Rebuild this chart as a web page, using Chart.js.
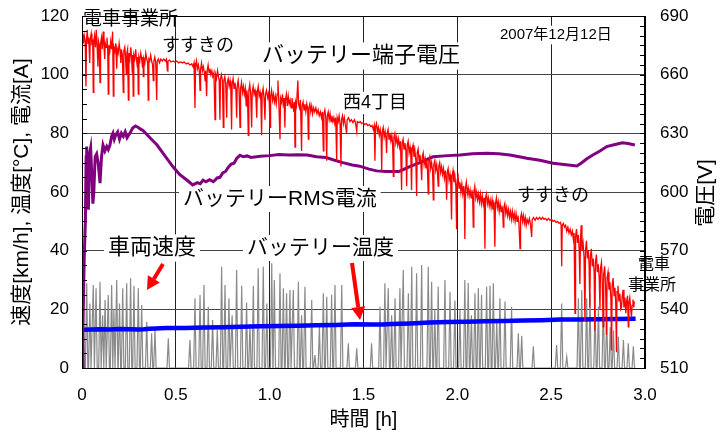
<!DOCTYPE html>
<html lang="ja">
<head>
<meta charset="UTF-8">
<title>バッテリー端子電圧</title>
<script src="https://cdn.jsdelivr.net/npm/chart.js"></script>
<style>
  html, body { margin: 0; padding: 0; background: #fff; }
  canvas { display: block; }
</style>
</head>
<body>
<canvas id="chart" width="723" height="435"></canvas>
<script>
// 軸の目盛り
const xTickValues = [0, 0.5, 1.0, 1.5, 2.0, 2.5, 3.0];
const leftTickValues = [0, 20, 40, 60, 80, 100, 120];
const rightTickValues = [510, 540, 570, 600, 630, 660, 690];

// バッテリー端子電圧 [h, V]
const voltage = [
  [0, 679], [0.004, 681], [0.008, 676], [0.012, 680], [0.017, 677], [0.021, 654], [0.024, 678], [0.028, 683],
  [0.032, 676], [0.036, 679], [0.041, 666], [0.044, 678], [0.049, 681], [0.053, 675], [0.057, 678], [0.060, 651],
  [0.063, 677], [0.067, 680], [0.072, 674], [0.076, 683], [0.080, 676], [0.085, 664], [0.088, 677], [0.092, 675],
  [0.096, 656], [0.099, 676], [0.104, 679], [0.108, 673], [0.113, 682], [0.117, 675], [0.121, 668], [0.124, 676],
  [0.129, 674], [0.133, 679], [0.137, 674], [0.140, 650], [0.143, 675], [0.148, 672], [0.153, 677], [0.158, 673],
  [0.163, 682], [0.167, 649], [0.170, 674], [0.175, 672], [0.180, 676], [0.185, 663], [0.188, 673], [0.193, 671],
  [0.198, 676], [0.203, 672], [0.207, 666], [0.210, 673], [0.215, 670], [0.220, 651], [0.223, 672], [0.228, 674],
  [0.232, 669], [0.236, 660], [0.239, 671], [0.243, 673], [0.247, 647], [0.250, 671], [0.255, 668], [0.260, 674],
  [0.264, 669], [0.268, 661], [0.270, 670], [0.273, 649], [0.276, 670], [0.281, 668], [0.286, 673], [0.290, 668],
  [0.295, 664], [0.297, 669], [0.300, 650], [0.303, 669], [0.308, 667], [0.313, 671], [0.318, 668], [0.322, 664],
  [0.324, 669], [0.327, 659], [0.330, 668], [0.335, 666], [0.340, 671], [0.345, 668], [0.350, 666], [0.353, 647],
  [0.356, 668], [0.361, 667], [0.366, 670], [0.371, 667], [0.376, 665], [0.380, 657], [0.383, 667], [0.388, 669],
  [0.393, 666], [0.398, 647], [0.401, 667], [0.407, 668], [0.413, 666], [0.420, 668], [0.428, 667], [0.436, 668],
  [0.444, 667], [0.450, 668], [0.455, 662], [0.458, 667], [0.466, 667.5], [0.475, 666.5], [0.485, 667], [0.495, 666.5],
  [0.505, 667], [0.515, 666], [0.525, 666.5], [0.535, 666], [0.545, 666.5], [0.555, 665.5], [0.565, 666], [0.575, 665],
  [0.585, 665.5], [0.592, 664], [0.597, 666], [0.602, 643], [0.605, 664], [0.610, 667], [0.615, 663], [0.620, 665],
  [0.625, 662], [0.629, 652], [0.632, 663], [0.637, 666], [0.642, 662], [0.647, 664], [0.652, 661], [0.656, 657],
  [0.659, 662], [0.664, 649], [0.667, 662], [0.672, 665], [0.677, 661], [0.682, 663], [0.687, 660], [0.692, 662],
  [0.697, 659], [0.703, 661], [0.709, 637], [0.712, 660], [0.717, 658], [0.722, 662], [0.727, 659], [0.731, 657],
  [0.735, 637], [0.738, 658], [0.743, 660], [0.748, 657], [0.753, 633], [0.756, 657], [0.761, 659], [0.766, 655],
  [0.771, 638], [0.774, 656], [0.779, 658], [0.784, 654], [0.789, 657], [0.793, 653], [0.797, 632], [0.800, 655],
  [0.805, 658], [0.810, 653], [0.815, 656], [0.820, 652], [0.824, 638], [0.827, 654], [0.832, 657], [0.837, 652],
  [0.842, 633], [0.845, 653], [0.850, 656], [0.855, 651], [0.860, 654], [0.865, 650], [0.870, 653], [0.875, 644],
  [0.878, 652], [0.882, 649], [0.886, 629], [0.889, 652], [0.894, 655], [0.899, 650], [0.904, 633], [0.907, 651],
  [0.912, 654], [0.917, 650], [0.922, 652], [0.927, 648], [0.931, 638], [0.934, 651], [0.939, 654], [0.944, 649],
  [0.949, 651], [0.953, 647], [0.957, 629], [0.960, 650], [0.965, 653], [0.970, 648], [0.975, 637], [0.978, 650],
  [0.983, 652], [0.990, 648], [0.996, 651], [1.002, 633], [1.005, 649], [1.010, 652], [1.015, 647], [1.020, 650],
  [1.025, 646], [1.030, 649], [1.035, 645], [1.040, 650], [1.044, 657], [1.048, 648], [1.055, 627], [1.058, 648],
  [1.063, 646], [1.068, 650], [1.072, 645], [1.077, 648], [1.081, 633], [1.084, 647], [1.089, 650], [1.094, 644],
  [1.099, 649], [1.104, 645], [1.109, 647], [1.114, 643], [1.119, 648], [1.124, 645], [1.129, 641], [1.132, 646],
  [1.135, 623], [1.138, 646], [1.143, 644], [1.150, 657], [1.154, 645], [1.159, 643], [1.164, 647], [1.170, 621],
  [1.173, 644], [1.178, 646], [1.183, 642], [1.188, 645], [1.193, 641], [1.198, 645], [1.203, 642], [1.206, 627],
  [1.209, 643], [1.214, 645], [1.219, 641], [1.224, 644], [1.229, 640], [1.234, 643], [1.240, 641], [1.246, 643],
  [1.252, 640], [1.258, 642], [1.264, 639], [1.270, 641], [1.276, 638], [1.281, 641], [1.286, 621], [1.289, 640],
  [1.294, 642], [1.299, 638], [1.304, 616], [1.307, 639], [1.312, 641], [1.317, 637], [1.322, 640], [1.327, 636],
  [1.332, 639], [1.337, 636], [1.342, 638], [1.347, 635], [1.352, 638], [1.357, 616], [1.360, 638], [1.365, 636],
  [1.370, 639], [1.375, 635], [1.380, 613], [1.383, 637], [1.388, 639], [1.393, 635], [1.398, 638], [1.404, 634],
  [1.410, 630], [1.413, 637], [1.420, 638], [1.428, 636], [1.436, 637], [1.444, 635.5], [1.452, 637], [1.458, 635],
  [1.464, 631], [1.467, 636], [1.475, 635.5], [1.483, 636], [1.491, 635], [1.499, 635.5], [1.507, 634.5], [1.515, 635],
  [1.523, 634], [1.531, 634.5], [1.539, 633.5], [1.546, 634], [1.552, 632], [1.557, 634], [1.561, 616], [1.564, 633],
  [1.569, 635], [1.574, 631], [1.579, 633], [1.584, 629], [1.589, 632], [1.594, 628], [1.597, 611], [1.600, 631],
  [1.605, 633], [1.610, 628], [1.615, 631], [1.620, 627], [1.623, 620], [1.626, 630], [1.631, 632], [1.636, 627],
  [1.641, 630], [1.646, 626], [1.651, 629], [1.655, 625], [1.659, 608], [1.662, 628], [1.667, 630], [1.672, 625],
  [1.677, 628], [1.682, 624], [1.687, 627], [1.692, 623], [1.697, 626], [1.703, 601], [1.706, 625], [1.711, 627],
  [1.716, 622], [1.721, 625], [1.726, 621], [1.730, 603], [1.733, 624], [1.738, 626], [1.743, 620], [1.748, 623],
  [1.752, 619], [1.756, 601], [1.759, 622], [1.764, 624], [1.769, 618], [1.774, 621], [1.779, 616], [1.783, 598],
  [1.786, 620], [1.791, 622], [1.796, 616], [1.801, 619], [1.806, 614], [1.810, 606], [1.813, 618], [1.818, 620],
  [1.823, 614], [1.828, 617], [1.833, 612], [1.838, 616], [1.841, 611], [1.845, 599], [1.848, 616], [1.853, 618],
  [1.858, 612], [1.863, 615], [1.868, 611], [1.872, 596], [1.875, 614], [1.880, 616], [1.885, 611], [1.890, 614],
  [1.894, 610], [1.898, 603], [1.901, 613], [1.906, 615], [1.911, 610], [1.916, 613], [1.921, 609], [1.926, 612],
  [1.931, 607], [1.936, 611], [1.940, 606], [1.943, 596], [1.946, 610], [1.951, 612], [1.956, 606], [1.961, 609],
  [1.965, 605], [1.969, 586], [1.972, 608], [1.977, 611], [1.982, 605], [1.987, 608], [1.992, 603], [1.996, 581],
  [1.999, 606], [2.004, 608], [2.009, 602], [2.014, 605], [2.019, 600], [2.024, 604], [2.029, 599], [2.034, 603],
  [2.037, 598], [2.040, 576], [2.043, 602], [2.048, 605], [2.053, 599], [2.058, 602], [2.063, 598], [2.068, 601],
  [2.073, 597], [2.078, 601], [2.082, 596], [2.085, 582], [2.088, 600], [2.093, 603], [2.098, 597], [2.103, 600],
  [2.108, 596], [2.113, 599], [2.118, 595], [2.123, 599], [2.128, 594], [2.133, 598], [2.138, 594], [2.143, 597],
  [2.147, 571], [2.150, 597], [2.155, 599], [2.160, 594], [2.165, 597], [2.170, 593], [2.175, 596], [2.180, 592],
  [2.185, 596], [2.190, 591], [2.195, 595], [2.200, 572], [2.203, 594], [2.208, 597], [2.213, 592], [2.218, 595],
  [2.223, 590], [2.228, 594], [2.233, 590], [2.238, 593], [2.242, 589], [2.245, 582], [2.248, 592], [2.253, 594],
  [2.258, 589], [2.263, 592], [2.268, 588], [2.273, 591], [2.278, 587], [2.283, 590], [2.288, 586], [2.293, 590],
  [2.298, 586], [2.303, 589], [2.308, 585], [2.313, 589], [2.318, 585], [2.323, 588], [2.328, 584], [2.334, 571],
  [2.337, 587], [2.342, 589], [2.347, 585], [2.352, 588], [2.357, 584], [2.362, 587], [2.367, 583], [2.372, 586],
  [2.378, 584], [2.384, 586.5], [2.390, 583.5], [2.396, 577], [2.399, 586], [2.406, 587], [2.414, 585.5], [2.422, 587],
  [2.430, 586], [2.438, 587], [2.446, 586], [2.454, 587], [2.462, 586], [2.470, 586.5], [2.478, 585.5], [2.486, 586.5],
  [2.494, 585.5], [2.502, 586], [2.510, 585], [2.518, 585.5], [2.526, 584.5], [2.534, 585], [2.542, 584], [2.550, 584.5],
  [2.553, 583], [2.556, 562], [2.559, 583], [2.565, 584], [2.571, 582], [2.577, 583], [2.583, 580], [2.589, 582],
  [2.595, 579], [2.601, 581], [2.607, 578], [2.613, 580], [2.618, 576], [2.622, 579], [2.627, 538], [2.630, 577],
  [2.635, 581], [2.640, 574], [2.645, 578], [2.649, 571], [2.653, 553], [2.656, 575], [2.660, 583], [2.664, 570],
  [2.670, 574], [2.675, 567], [2.680, 534], [2.683, 570], [2.688, 575], [2.693, 566], [2.698, 570], [2.702, 563],
  [2.706, 541], [2.709, 567], [2.714, 571], [2.719, 562], [2.724, 566], [2.729, 559], [2.733, 529], [2.736, 564],
  [2.741, 568], [2.746, 559], [2.751, 563], [2.756, 556], [2.760, 540], [2.763, 561], [2.768, 564], [2.772, 556],
  [2.777, 531], [2.780, 558], [2.785, 562], [2.790, 552], [2.795, 527], [2.798, 556], [2.803, 559], [2.808, 550],
  [2.813, 554], [2.818, 546], [2.822, 519], [2.825, 552], [2.830, 556], [2.835, 547], [2.840, 551], [2.844, 543],
  [2.848, 518], [2.851, 549], [2.856, 552], [2.861, 544], [2.866, 548], [2.871, 540], [2.875, 541], [2.878, 546],
  [2.883, 550], [2.888, 541], [2.893, 546], [2.898, 538], [2.902, 544], [2.907, 547], [2.911, 531], [2.914, 543],
  [2.919, 546], [2.924, 540], [2.928, 536], [2.931, 542], [2.936, 545], [2.940, 541], [2.943, 544]
];

// バッテリーRMS電流 [h, A]
const current = [
  [0, 0], [0.005, 14], [0.012, 38], [0.018, 50], [0.022, 72], [0.025, 75.5], [0.029, 62], [0.034, 54],
  [0.040, 73], [0.046, 75], [0.052, 66], [0.058, 56], [0.063, 60], [0.070, 72], [0.078, 73], [0.086, 70],
  [0.096, 63], [0.104, 72], [0.112, 76], [0.122, 74], [0.132, 75.5], [0.140, 74.5], [0.149, 76], [0.158, 79],
  [0.165, 80], [0.172, 78], [0.180, 79.5], [0.190, 80.5], [0.200, 78], [0.210, 80], [0.220, 79], [0.230, 80.5],
  [0.240, 78.5], [0.255, 80], [0.270, 81.8], [0.285, 82.5], [0.300, 82], [0.310, 81.5], [0.325, 81], [0.347, 79.5],
  [0.370, 78], [0.400, 76], [0.440, 72.5], [0.485, 68.6], [0.520, 66], [0.560, 64], [0.590, 62.4], [0.615, 63.2],
  [0.630, 62.8], [0.645, 64], [0.660, 63.5], [0.680, 64.2], [0.700, 63.5], [0.720, 64.8], [0.735, 65], [0.750, 66.5],
  [0.765, 67], [0.780, 68.5], [0.795, 69.5], [0.810, 69.8], [0.825, 71.5], [0.842, 72.5], [0.860, 72], [0.880, 72.3],
  [0.900, 71.8], [0.950, 72.2], [1.000, 72.4], [1.050, 72.8], [1.100, 72.6], [1.150, 72.7], [1.200, 72.6], [1.250, 72],
  [1.300, 71.8], [1.337, 71], [1.390, 70], [1.440, 69.2], [1.480, 68.8], [1.530, 67.8], [1.570, 67.2], [1.620, 67],
  [1.690, 67], [1.740, 68.5], [1.800, 70], [1.870, 72], [1.950, 72.4], [2.014, 72.6], [2.080, 73], [2.157, 73.2],
  [2.220, 73], [2.280, 72.6], [2.330, 72], [2.370, 71.5], [2.440, 70.8], [2.510, 69.8], [2.580, 69.3], [2.637, 68.9],
  [2.663, 70], [2.690, 71.3], [2.722, 72.6], [2.760, 74], [2.796, 75.5], [2.840, 76.2], [2.880, 76.8], [2.910, 76.5],
  [2.946, 76]
];

// バッテリー温度 [h, °C]
const temperature = [
  [0.005, 13.0], [0.05, 13.1], [0.10, 13.2], [0.15, 13.1], [0.20, 13.3], [0.25, 13.2], [0.30, 13.1], [0.33, 13.2],
  [0.36, 13.4], [0.45, 13.6], [0.55, 13.6], [0.65, 13.8], [0.75, 13.9], [0.85, 14.1], [0.95, 14.2], [1.05, 14.3],
  [1.15, 14.4], [1.25, 14.6], [1.35, 14.7], [1.45, 14.9], [1.55, 14.8], [1.60, 14.8], [1.65, 15.0], [1.75, 15.2],
  [1.85, 15.5], [1.95, 15.7], [2.05, 15.8], [2.15, 15.9], [2.25, 16.0], [2.35, 16.2], [2.45, 16.3], [2.55, 16.5],
  [2.65, 16.5], [2.75, 16.6], [2.85, 16.7], [2.95, 16.8]
];

// 車両速度 : 各駅間の最高速度 [h, km/h]（停車中は 0）
const speedPeaks = [
  [0.006, 25], [0.025, 28.9], [0.042, 22], [0.060, 28.3], [0.075, 27.2], [0.096, 29.4], [0.110, 18], [0.123, 23.2],
  [0.140, 24.9], [0.158, 28.3], [0.170, 20], [0.185, 30], [0.200, 22], [0.217, 27.2], [0.238, 28.9], [0.259, 30.6],
  [0.277, 28], [0.300, 27.2], [0.318, 21.5], [0.345, 15.8], [0.371, 11.8], [0.389, 13], [0.460, 10.1], [0.575, 9.5],
  [0.602, 23.8], [0.629, 24.9], [0.650, 28.3], [0.673, 20.9], [0.696, 16.4], [0.721, 13], [0.744, 34.5], [0.762, 28.3],
  [0.783, 23.8], [0.800, 18], [0.824, 33.4], [0.851, 28], [0.877, 22.3], [0.895, 15], [0.913, 28], [0.939, 34],
  [0.966, 34.5], [0.985, 22], [1.011, 35.7], [1.025, 30], [1.055, 32.3], [1.073, 27.2], [1.090, 25.5], [1.108, 26.6],
  [1.126, 26.6], [1.153, 29.4], [1.170, 18], [1.188, 27.7], [1.224, 23.2], [1.241, 4.4], [1.265, 14], [1.286, 25.5],
  [1.304, 24.3], [1.330, 25], [1.348, 28.3], [1.384, 28.3], [1.419, 8.4], [1.464, 6.7], [1.543, 8.4], [1.588, 20.9],
  [1.614, 28.9], [1.632, 27.2], [1.650, 18], [1.668, 23.8], [1.694, 27.2], [1.712, 33.4], [1.739, 25.5], [1.757, 34.5],
  [1.783, 32.3], [1.810, 35.1], [1.845, 34.5], [1.863, 29.4], [1.880, 20], [1.898, 27.7], [1.934, 30], [1.961, 26],
  [1.987, 23], [2.014, 19.8], [2.040, 30], [2.058, 29], [2.075, 18], [2.094, 25.5], [2.112, 27.2], [2.129, 25],
  [2.156, 27.7], [2.174, 28], [2.192, 28.9], [2.210, 16], [2.227, 23.8], [2.254, 22.7], [2.289, 20.9], [2.325, 11.8],
  [2.343, 11], [2.405, 7.4], [2.529, 7.8], [2.556, 22], [2.583, 3.8], [2.645, 23.8], [2.663, 26.6], [2.689, 23.8],
  [2.707, 25], [2.734, 20.3], [2.752, 21], [2.778, 23], [2.796, 17.5], [2.815, 14], [2.832, 12.9], [2.858, 10.7],
  [2.885, 9.5], [2.911, 8.4], [2.938, 7.4]
];

const FONT = "'Liberation Sans', 'Noto Sans CJK JP', sans-serif";

// 図中の注記
const notes = [
  { text: '電車事業所', x: 83, y: 20, size: 19 },
  { text: 'すすきの', x: 162, y: 46, size: 18 },
  { text: 'バッテリー端子電圧', x: 262, y: 56, size: 22, box: true },
  { text: '2007年12月12日', x: 500, y: 35, size: 15, box: true },
  { text: '西4丁目', x: 343, y: 103, size: 18, box: true },
  { text: 'バッテリーRMS電流', x: 183, y: 199, size: 21, box: true },
  { text: 'すすきの', x: 517, y: 196, size: 18 },
  { text: '車両速度', x: 108, y: 248, size: 22, box: true },
  { text: 'バッテリー温度', x: 247, y: 248, size: 21, box: true },
  { text: '電車', x: 638, y: 265, size: 16 },
  { text: '事業所', x: 628, y: 286, size: 16 }
];
const arrows = [
  [163, 264, 147, 290],
  [352, 263, 360, 320]
];

const toPoints = arr => arr.map(p => ({ x: p[0], y: p[1] }));

const speedPoints = [{ x: 0, y: 0 }];
speedPeaks.forEach(p => {
  speedPoints.push({ x: p[0] - 0.007, y: 0 }, { x: p[0], y: p[1] }, { x: p[0] + 0.006, y: 0 });
});
speedPoints.push({ x: 2.95, y: 0 });

const decor = {
  id: 'decor',
  beforeDatasetsDraw(chart) {
    const ctx = chart.ctx;
    ctx.save();
    ctx.fillStyle = '#fff';
    notes.filter(n => n.box).forEach(n => {
      ctx.font = `${n.size}px ${FONT}`;
      const w = ctx.measureText(n.text).width;
      ctx.fillRect(n.x - 4, n.y - n.size * 0.62, w + 8, n.size * 1.24);
    });
    ctx.restore();
  },
  afterDatasetsDraw(chart) {
    const { ctx, chartArea: a, scales } = chart;
    ctx.save();

    // 枠
    ctx.strokeStyle = '#000';
    ctx.lineWidth = 1;
    ctx.strokeRect(Math.round(a.left) + 0.5, Math.round(a.top) + 0.5,
      Math.round(a.right - a.left) - 1, Math.round(a.bottom - a.top));

    // 補助目盛り（内向き）
    ctx.beginPath();
    for (let v = 0; v <= 120; v += 5) {
      const y = Math.round(scales.y.getPixelForValue(v)) + 0.5;
      ctx.moveTo(a.left, y); ctx.lineTo(a.left + 5, y);
    }
    for (let v = 510; v <= 690; v += 5) {
      const y = Math.round(scales.y1.getPixelForValue(v)) + 0.5;
      ctx.moveTo(a.right - 5, y); ctx.lineTo(a.right, y);
    }
    ctx.stroke();

    // 注記
    ctx.fillStyle = '#000';
    ctx.textBaseline = 'middle';
    ctx.textAlign = 'left';
    notes.forEach(n => {
      ctx.font = `${n.size}px ${FONT}`;
      ctx.fillText(n.text, n.x, n.y);
    });

    // 矢印
    ctx.strokeStyle = '#ff0000';
    ctx.fillStyle = '#ff0000';
    arrows.forEach(([x1, y1, x2, y2]) => {
      const ang = Math.atan2(y2 - y1, x2 - x1);
      const head = 13;
      const bx = x2 - head * Math.cos(ang), by = y2 - head * Math.sin(ang);
      ctx.lineWidth = 4;
      ctx.beginPath();
      ctx.moveTo(x1, y1); ctx.lineTo(bx, by);
      ctx.stroke();
      ctx.beginPath();
      ctx.moveTo(x2, y2);
      ctx.lineTo(bx + 7 * Math.sin(ang), by - 7 * Math.cos(ang));
      ctx.lineTo(bx - 7 * Math.sin(ang), by + 7 * Math.cos(ang));
      ctx.closePath();
      ctx.fill();
    });

    // 軸タイトル
    ctx.fillStyle = '#000';
    ctx.textAlign = 'center';
    ctx.font = `21px ${FONT}`;
    ctx.save();
    ctx.translate(22, 192);
    ctx.rotate(-Math.PI / 2);
    ctx.fillText('速度[km/h], 温度[°C], 電流[A]', 0, 0);
    ctx.restore();
    ctx.save();
    ctx.translate(706, 193);
    ctx.rotate(-Math.PI / 2);
    ctx.fillText('電圧[V]', 0, 0);
    ctx.restore();
    ctx.font = `20px ${FONT}`;
    ctx.fillText('時間 [h]', (a.left + a.right) / 2, 420);

    ctx.restore();
  }
};

const tickFont = { family: FONT, size: 17 };
// 縦軸ラベルは行高を小さくして、上端の余白が広がらないようにする
const yTickFont = { family: FONT, size: 17, lineHeight: 0.1 };

new Chart(document.getElementById('chart'), {
  type: 'line',
  data: {
    datasets: [
      { label: 'バッテリー端子電圧', data: toPoints(voltage), yAxisID: 'y1', borderColor: '#ff0000', borderWidth: 1.3, order: 1 },
      { label: 'バッテリーRMS電流', data: toPoints(current), yAxisID: 'y', borderColor: '#800080', borderWidth: 3, order: 2 },
      { label: 'バッテリー温度', data: toPoints(temperature), yAxisID: 'y', borderColor: '#0000ff', borderWidth: 4.5, order: 3 },
      { label: '車両速度', data: speedPoints, yAxisID: 'y', borderColor: '#8a8a8a', borderWidth: 1.2, order: 4 }
    ]
  },
  options: {
    responsive: false,
    animation: false,
    layout: { padding: { top: 16, left: 0, right: 0, bottom: 0 } },
    elements: { point: { radius: 0 }, line: { tension: 0 } },
    plugins: { legend: { display: false }, tooltip: { enabled: false } },
    scales: {
      x: {
        type: 'linear', min: 0, max: 3,
        afterBuildTicks: s => { s.ticks = xTickValues.map(v => ({ value: v })); },
        afterFit: s => { s.height = 67; },
        ticks: { font: tickFont, color: '#000', padding: 17, maxRotation: 0,
          callback: v => v === 0 ? '0' : v.toFixed(1) },
        grid: { color: '#222', lineWidth: 1, drawTicks: false },
        border: { color: '#000' }
      },
      y: {
        position: 'left', min: 0, max: 120,
        afterBuildTicks: s => { s.ticks = leftTickValues.map(v => ({ value: v })); },
        afterFit: s => { s.width = 82; },
        ticks: { font: yTickFont, color: '#000', padding: 13 },
        grid: { color: '#444', lineWidth: 1, drawTicks: false },
        border: { color: '#000' }
      },
      y1: {
        position: 'right', min: 510, max: 690,
        afterBuildTicks: s => { s.ticks = rightTickValues.map(v => ({ value: v })); },
        afterFit: s => { s.width = 78; },
        ticks: { font: yTickFont, color: '#000', padding: 15 },
        grid: { drawOnChartArea: false, drawTicks: false },
        border: { color: '#000' }
      }
    }
  },
  plugins: [decor]
});
</script>
</body>
</html>
